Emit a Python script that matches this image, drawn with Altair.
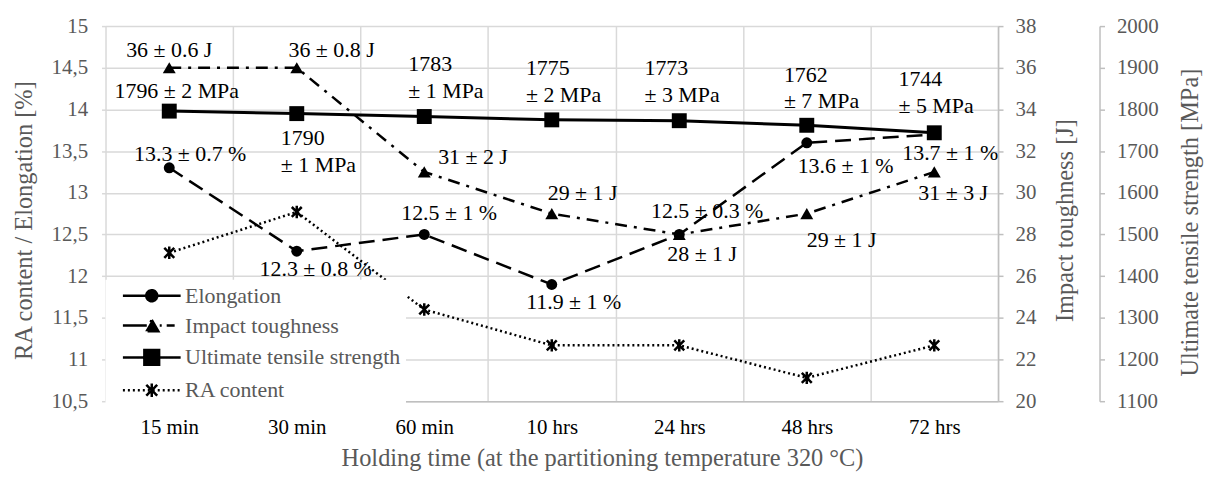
import altair as alt
import pandas as pd

FONT = "Liberation Serif"
GRAY = "#595959"
GRID = "#d9d9d9"
AXISLINE = "#bfbfbf"

# ---------------- data ----------------
times = ["15 min", "30 min", "60 min", "10 hrs", "24 hrs", "48 hrs", "72 hrs"]

elongation = [13.3, 12.3, 12.5, 11.9, 12.5, 13.6, 13.7]
elongation_err = ["0.7", "0.8", "1", "1", "0.3", "1", "1"]

impact = [36, 36, 31, 29, 28, 29, 31]
impact_err = ["0.6", "0.8", "2", "1", "1", "1", "3"]

uts = [1796, 1790, 1783, 1775, 1773, 1762, 1744]
uts_err = ["2", "1", "1", "2", "3", "7", "5"]
uts_two_lines = [False, True, True, True, True, True, True]

ra_content = [12.28, 12.77, 11.6, 11.17, 11.17, 10.78, 11.17]

series_names = ["Elongation", "Impact toughness", "Ultimate tensile strength", "RA content"]

left_ticks = [10.5, 11, 11.5, 12, 12.5, 13, 13.5, 14, 14.5, 15]
impact_ticks = [20, 22, 24, 26, 28, 30, 32, 34, 36, 38]
uts_ticks = [1100, 1200, 1300, 1400, 1500, 1600, 1700, 1800, 1900, 2000]

# ---------------- label placement (pixel offsets from each point) ----------------
elong_dx = [21, 19, 25, 22, 28, 39, 16]
elong_dy = [-14, 18, -22, 18, -24, 23, 19]
impact_dx = [0, 35, 49, 31, 23, 35, 19]
impact_dy = [-18, -18, -15, -21, 20, 27, 21]
uts_dx = [-55, -16, -16, -26, -35, -23, -36]
uts_dy = [-30, 15, -63, -62, -63, -61, -64]


# ---------------- legend symbols: line + marker as custom paths ----------------
def fine_segments(x0, y0, x1, y1, n):
    # a stroke cut into tiny sub-paths, so a dotted dash pattern still draws it solid
    parts = []
    for k in range(n):
        a = k / n
        b = (k + 1) / n
        parts.append("M%.3f,%.3fL%.3f,%.3f" % (x0 + (x1 - x0) * a, y0 + (y1 - y0) * a,
                                               x0 + (x1 - x0) * b, y0 + (y1 - y0) * b))
    return "".join(parts)


LEG_LINE = "M0.27,0H10.82"
legend_paths = [
    LEG_LINE + "M4.54,0A1,1 0 1,0 6.54,0A1,1 0 1,0 4.54,0Z",
    LEG_LINE + "M5.54,-1.04L6.74,1.04L4.34,1.04Z",
    LEG_LINE + "M4.19,-1.35H6.89V1.35H4.19Z",
    LEG_LINE + fine_segments(4.54, -1, 6.54, 1, 8) + fine_segments(4.54, 1, 6.54, -1, 8)
    + fine_segments(5.54, -1.25, 5.54, 1.25, 8),
]
legend_dashes = [[1, 0], [24, 13, 2, 5, 8, 20], [1, 0], [2, 3]]
asterisk = "M-1,-1L1,1M-1,1L1,-1M0,-1.25L0,1.25"


def frame(values, labels=None, dx=None, dy=None):
    d = {"time": times, "value": values}
    if labels is not None:
        d["label"] = labels
        d["dx"] = dx
        d["dy"] = dy
    return pd.DataFrame(d)


elong_labels = [f"{v} ± {e} %" for v, e in zip(elongation, elongation_err)]
impact_labels = [f"{v} ± {e} J" for v, e in zip(impact, impact_err)]
uts_labels = [str(v) + ("\n" if two else " ") + "± " + e + " MPa"
              for v, e, two in zip(uts, uts_err, uts_two_lines)]

df_elong = frame(elongation, elong_labels, elong_dx, elong_dy)
df_impact = frame(impact, impact_labels, impact_dx, impact_dy)
df_uts = frame(uts, uts_labels, uts_dx, uts_dy)
df_ra = frame(ra_content)

# ---------------- encodings ----------------
TITLE_SIZE = 24.5
LABEL_SIZE = 21

x_axis = alt.Axis(
    title="Holding time (at the partitioning temperature 320 °C)",
    labelAngle=0, grid=True, tickBand="extent", ticks=False,
    domainColor=AXISLINE, domainWidth=1.5, gridColor=GRID, gridWidth=1.5,
    labelPadding=15, titlePadding=10, titleX=499, titleAlign="center",
    labelColor="black", titleColor=GRAY,
    labelFont=FONT, titleFont=FONT, labelFontSize=LABEL_SIZE, titleFontSize=TITLE_SIZE,
)
x_enc = alt.X("time:N", sort=times,
              scale=alt.Scale(type="band", domain=times, paddingInner=0, paddingOuter=0),
              bandPosition=0.5, axis=x_axis)

left_axis = alt.Axis(
    title="RA content / Elongation  [%]", values=left_ticks,
    labelExpr="replace(format(datum.value, '.1~f'), '.', ',')",
    grid=True, gridColor=GRID, gridWidth=1.5, domain=False,
    ticks=True, tickSize=4, tickColor=GRID, tickWidth=1.5,
    labelPadding=14, titlePadding=15, titleY=195, labelColor=GRAY, titleColor=GRAY,
    labelFont=FONT, titleFont=FONT, labelFontSize=LABEL_SIZE, titleFontSize=TITLE_SIZE,
)
y_left = alt.Y("value:Q", scale=alt.Scale(domain=[10.5, 15], nice=False, zero=False), axis=left_axis)

impact_axis = alt.Axis(
    title="Impact toughness [J]", orient="right", values=impact_ticks, grid=False, format="d",
    domainColor=AXISLINE, domainWidth=1.5, tickColor=AXISLINE, tickWidth=1.5, tickSize=5,
    labelPadding=12, titlePadding=42, titleY=195, titleAngle=270, titleBaseline="bottom",
    labelColor=GRAY, titleColor=GRAY, labelFont=FONT, titleFont=FONT,
    labelFontSize=LABEL_SIZE, titleFontSize=TITLE_SIZE,
)
y_imp = alt.Y("value:Q", scale=alt.Scale(domain=[20, 38], nice=False, zero=False), axis=impact_axis)

uts_axis = alt.Axis(
    title="Ultimate tensile strength [MPa]", orient="right", offset=102, values=uts_ticks,
    grid=False, format="d", domainColor=AXISLINE, domainWidth=1.5, tickColor=AXISLINE,
    tickWidth=1.5, tickSize=5, labelPadding=12, titlePadding=44, titleY=197, titleAngle=270,
    titleBaseline="bottom", labelColor=GRAY, titleColor=GRAY, labelFont=FONT,
    titleFont=FONT, labelFontSize=LABEL_SIZE, titleFontSize=TITLE_SIZE,
)
y_uts = alt.Y("value:Q", scale=alt.Scale(domain=[1100, 2000], nice=False, zero=False), axis=uts_axis)


def label_layers(df, y_enc, align, baseline):
    layers = []
    for i in range(len(df)):
        row = df.iloc[[i]]
        layers.append(
            alt.Chart(row).mark_text(
                font=FONT, fontSize=22, color="black", align=align, baseline=baseline,
                lineBreak="\n", lineHeight=27,
                dx=int(row["dx"].iloc[0]), dy=int(row["dy"].iloc[0]),
            ).encode(x=x_enc, y=y_enc, text="label:N")
        )
    return layers


# ---------------- layers ----------------
left_layer = alt.layer(
    alt.Chart(df_elong).mark_line(color="black", strokeWidth=2.5, strokeDash=[16, 8]).encode(x=x_enc, y=y_left),
    alt.Chart(df_ra).mark_line(color="black", strokeWidth=2.5, strokeDash=[2, 3]).encode(x=x_enc, y=y_left),
    alt.Chart(df_elong).mark_point(shape="circle", filled=True, size=121, color="black", opacity=1).encode(x=x_enc, y=y_left),
    alt.Chart(df_ra).mark_point(shape=asterisk, filled=False, size=100, color="black", strokeWidth=2.5, opacity=1).encode(x=x_enc, y=y_left),
    *label_layers(df_elong, y_left, "center", "middle"),
)

impact_layer = alt.layer(
    alt.Chart(df_impact).mark_line(color="black", strokeWidth=2.5, strokeDash=[12, 7, 3, 7]).encode(x=x_enc, y=y_imp),
    alt.Chart(df_impact).mark_point(shape="triangle-up", filled=True, size=169, color="black", opacity=1).encode(x=x_enc, y=y_imp),
    *label_layers(df_impact, y_imp, "center", "middle"),
)

uts_layer = alt.layer(
    alt.Chart(df_uts).mark_line(color="black", strokeWidth=3).encode(x=x_enc, y=y_uts),
    alt.Chart(df_uts).mark_point(shape="square", filled=True, size=225, color="black", opacity=1).encode(x=x_enc, y=y_uts),
    *label_layers(df_uts, y_uts, "left", "top"),
)

leg = alt.Legend(
    title=None, orient="none", legendX=0, legendY=255, fillColor="white", padding=5,
    symbolSize=121, symbolStrokeWidth=2.5, symbolOpacity=1, labelOffset=53, rowPadding=8,
    labelFont=FONT, labelFontSize=22, labelColor=GRAY, labelLimit=400,
)
legend_layer = alt.Chart(pd.DataFrame({"series": series_names})).transform_filter("false").mark_point(
    filled=False, fill="black", stroke="black", strokeWidth=2.5, opacity=1, size=121
).encode(
    shape=alt.Shape("series:N", scale=alt.Scale(domain=series_names, range=legend_paths), legend=leg),
    strokeDash=alt.StrokeDash("series:N", scale=alt.Scale(domain=series_names, range=legend_dashes), legend=leg),
)

chart = alt.layer(left_layer, impact_layer, uts_layer, legend_layer).resolve_scale(
    y="independent"
).properties(
    width=897, height=377,
    autosize=alt.AutoSizeParams(type="none"),
    padding={"left": 98, "top": 17, "right": 207, "bottom": 74},
).configure(font=FONT).configure_view(stroke="transparent").configure_axis(
    labelFont=FONT, titleFont=FONT, titleFontWeight="normal"
).configure_legend(labelFont=FONT)

chart.save("out.html", embed_options={"renderer": "svg", "actions": False})
